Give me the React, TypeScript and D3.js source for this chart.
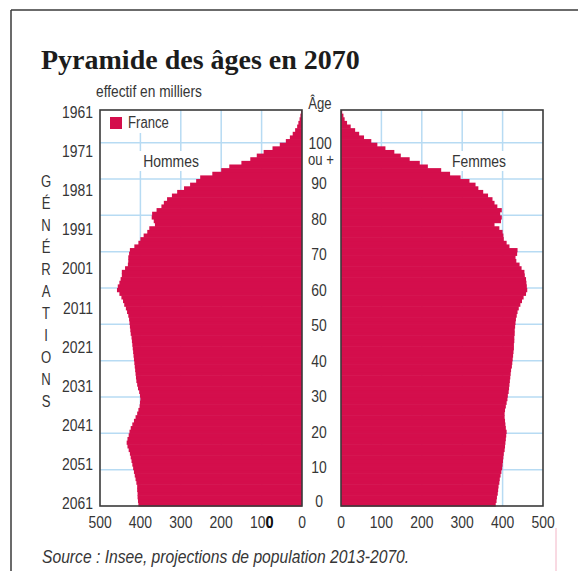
import React from 'react';
import * as d3 from 'd3';

// Population (thousands) by single year of age, 0 .. 108
const hommes = [
  405, 406, 407, 407, 408, 408, 410, 412, 414, 416,
  418, 420, 422, 424, 426, 429, 432, 434, 432, 429,
  427, 424, 420, 416, 412, 408, 405, 402, 401, 400,
  401, 403, 406, 408, 410, 411, 412, 413, 414, 415,
  416, 417, 418, 419, 420, 421, 422, 424, 425, 426,
  427, 428, 430, 433, 436, 440, 443, 447, 452, 458,
  456, 452, 449, 446, 446, 438, 431, 430, 430, 428,
  426, 415, 405, 400, 392, 383, 378, 364, 367, 372,
  371, 360, 348, 342, 334, 322, 309, 292, 277, 262,
  252, 222, 200, 180, 150, 128, 112, 95, 73, 55,
  40, 30, 23, 17, 12, 9, 6, 4, 2,
];
const femmes = [
  383, 385, 386, 388, 389, 390, 392, 393, 395, 397,
  399, 400, 401, 402, 403, 405, 406, 407, 408, 409,
  410, 408, 407, 406, 405, 405, 406, 408, 410, 412,
  413, 415, 416, 417, 418, 419, 420, 421, 423, 424,
  425, 426, 427, 428, 428, 429, 429, 430, 430, 431,
  432, 433, 435, 437, 440, 444, 448, 452, 458, 461,
  460, 459, 458, 455, 454, 447, 442, 434, 432, 436,
  437, 417, 410, 403, 402, 400, 392, 380, 396, 398,
  394, 398, 387, 380, 375, 364, 352, 340, 333, 318,
  296, 270, 248, 215, 195, 170, 148, 132, 110, 90,
  75, 57, 45, 35, 24, 15, 9, 6, 3,
];
const generationLabels = [1961, 1971, 1981, 1991, 2001, 2011, 2021, 2031, 2041, 2051, 2061];
const ageGridTicks = [10, 20, 30, 40, 50, 60, 70, 80, 90, 100];
const ageLabels = [0, 10, 20, 30, 40, 50, 60, 70, 80, 90];
const valueGridTicks = [100, 200, 300, 400];
const valueLabels = [0, 100, 200, 300, 400, 500];
const generationLetters = ['G', 'É', 'N', 'É', 'R', 'A', 'T', 'I', 'O', 'N', 'S'];

const RED = '#d40e4c';
const GRID = '#b7dbf3';
const FRAME = '#3a3a3a';
const TXT = '#363636';
const FONT = "'Liberation Sans', Arial, sans-serif";

type TProps = {
  x: number; y: number; anchor?: string; size?: number; fill?: string; sx?: number;
  weight?: string; italic?: boolean; children: React.ReactNode;
};
function T({ x, y, anchor = 'start', size = 17, fill = TXT, sx = 0.82, weight = 'normal', italic = false, children }: TProps) {
  return (
    <text
      transform={`translate(${x},${y}) scale(${sx},1)`}
      textAnchor={anchor}
      dominantBaseline="central"
      fontFamily={FONT}
      fontSize={size}
      fontWeight={weight}
      fontStyle={italic ? 'italic' : 'normal'}
      fill={fill}
    >
      {children}
    </text>
  );
}

export default function App() {
  const W = 578, H = 571;
  const maxAge = hommes.length; // 109
  const y = d3.scaleLinear().domain([0, maxAge]).range([506, 110]);
  const xL = d3.scaleLinear().domain([0, 500]).range([302, 100]);
  const xR = d3.scaleLinear().domain([0, 500]).range([341, 543]);
  const yGen = d3.scaleLinear().domain([1961, 2061]).range([112, 503]);
  const yAgeLabel = d3.scaleLinear().domain([10, 90]).range([467, 183]);

  const top = y(maxAge), bottom = y(0);

  return (
    <svg width={W} height={H} style={{ position: 'absolute', left: 0, top: 0, background: '#fff' }}>
      {/* outer frame */}
      <line x1={11} y1={10} x2={W} y2={10} stroke={FRAME} strokeWidth={1.5} />
      <line x1={11} y1={10} x2={11} y2={H} stroke={FRAME} strokeWidth={1.5} />
      <line x1={556} y1={528} x2={556} y2={H} stroke="#f2b5c6" strokeWidth={1} />

      <text x={41} y={69} fontFamily="'Liberation Serif', 'DejaVu Serif', serif" fontWeight="bold" fontSize={28} fill="#1c1c1c">
        Pyramide des âges en 2070
      </text>
      <T x={96} y={91} size={16} sx={0.86}>effectif en milliers</T>

      {/* grid */}
      {ageGridTicks.map((a) => (
        <g key={'hg' + a}>
          <line x1={xL(500)} x2={xL(0)} y1={y(a)} y2={y(a)} stroke={GRID} strokeWidth={1.5} />
          <line x1={xR(0)} x2={xR(500)} y1={y(a)} y2={y(a)} stroke={GRID} strokeWidth={1.5} />
        </g>
      ))}
      {valueGridTicks.map((v) => (
        <g key={'vg' + v}>
          <line x1={xL(v)} x2={xL(v)} y1={top} y2={bottom} stroke={GRID} strokeWidth={1.5} />
          <line x1={xR(v)} x2={xR(v)} y1={top} y2={bottom} stroke={GRID} strokeWidth={1.5} />
        </g>
      ))}

      {/* label boxes */}
      <rect x={101} y={111} width={75} height={22} fill="#fff" />
      <rect x={138} y={151} width={67} height={20} fill="#fff" />
      <rect x={448} y={151} width={62} height={20} fill="#fff" />

      {/* bars */}
      {hommes.map((v, i) => (
        <rect key={'h' + i} x={xL(v)} y={y(i + 1)} width={xL(0) - xL(v)} height={y(i) - y(i + 1) + 0.6} fill={RED} />
      ))}
      {femmes.map((v, i) => (
        <rect key={'f' + i} x={xR(0)} y={y(i + 1)} width={xR(v) - xR(0)} height={y(i) - y(i + 1) + 0.6} fill={RED} />
      ))}

      {/* panel frames */}
      <rect x={xL(500)} y={top} width={xL(0) - xL(500)} height={bottom - top} fill="none" stroke={FRAME} strokeWidth={1.6} />
      <rect x={xR(0)} y={top} width={xR(500) - xR(0)} height={bottom - top} fill="none" stroke={FRAME} strokeWidth={1.6} />

      {/* legend */}
      <rect x={110} y={117} width={12} height={12} fill={RED} />
      <T x={128} y={123} size={16}>France</T>
      <T x={171} y={161} anchor="middle" size={17}>Hommes</T>
      <T x={479} y={161} anchor="middle" size={17}>Femmes</T>

      {/* generation axis */}
      {generationLabels.map((g) => (
        <T key={'g' + g} x={93} y={yGen(g)} anchor="end" size={17}>{g}</T>
      ))}
      {generationLetters.map((c, i) => (
        <T key={'l' + i} x={46} y={182 + i * 22} anchor="middle" size={16}>{c}</T>
      ))}

      {/* age axis */}
      <T x={320} y={104} anchor="middle" size={16}>Âge</T>
      <T x={320} y={yAgeLabel(100) - 5} anchor="middle" size={17}>100</T>
      <T x={321} y={yAgeLabel(100) + 12} anchor="middle" size={16}>ou +</T>
      {ageLabels.map((a) => (
        <T key={'a' + a} x={319} y={a === 0 ? yAgeLabel(0) - 2 : yAgeLabel(a)} anchor="middle" size={17}>{a}</T>
      ))}

      {/* value axes */}
      {valueLabels.map((v) => (
        <T key={'xl' + v} x={xL(v)} y={522} anchor="middle" size={17}>{v}</T>
      ))}
      <T x={xL(100) + 12} y={522} anchor="end" size={17} weight="bold" fill="#111">0</T>
      {valueLabels.map((v) => (
        <T key={'xr' + v} x={xR(v)} y={522} anchor="middle" size={17}>{v}</T>
      ))}

      <T x={42} y={557} italic size={18} sx={0.87}>Source : Insee, projections de population 2013-2070.</T>
    </svg>
  );
}
